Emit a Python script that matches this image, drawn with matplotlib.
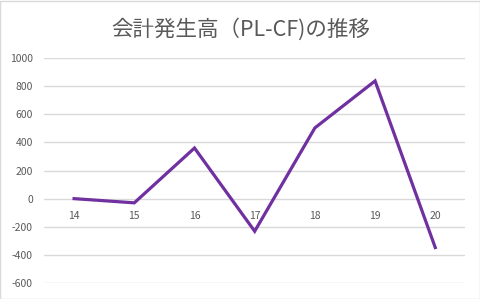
import matplotlib
matplotlib.use("Agg")
import matplotlib.pyplot as plt

# data
years = ["14", "15", "16", "17", "18", "19", "20"]
accruals = [0, -30, 360, -232, 503, 837, -348]
yticks = [-600, -400, -200, 0, 200, 400, 600, 800, 1000]

plt.rcParams["font.family"] = ["Noto Sans CJK JP", "DejaVu Sans"]
TXT = "#595959"

fig = plt.figure(figsize=(4.81, 2.99), dpi=100)
fig.patch.set_facecolor("white")
fig.patches.append(plt.Rectangle((0.001, 0.001), 0.997, 0.996, transform=fig.transFigure,
                                 fill=False, edgecolor="#D9D9D9", lw=1))
ax = fig.add_axes([0.0915, 0.0535, 0.876, 0.7525])

x = list(range(len(years)))
ax.plot(x, accruals, color="#7030A0", lw=2.3, solid_joinstyle="miter", zorder=3)

ax.set_xlim(-0.5, len(years) - 0.5)
ax.set_ylim(-600, 1000)
ax.set_yticks(yticks)
ax.set_yticklabels([str(v) for v in yticks])
ax.yaxis.grid(True, color="#D9D9D9", lw=1)
ax.set_axisbelow(True)

ax.set_xticks(x)
ax.set_xticklabels(years)
ax.spines["bottom"].set_position(("data", 0))
for s in ax.spines.values():
    s.set_visible(False)
ax.tick_params(axis="x", length=0, pad=9, labelsize=7.5, labelcolor=TXT)
ax.tick_params(axis="y", length=0, pad=8, labelsize=7.5, labelcolor=TXT)

fig.text(0.5, 0.90, "会計発生高（PL-CF)の推移", ha="center", va="center",
         fontsize=15.5, color=TXT)

fig.savefig("out.png", dpi=100)
